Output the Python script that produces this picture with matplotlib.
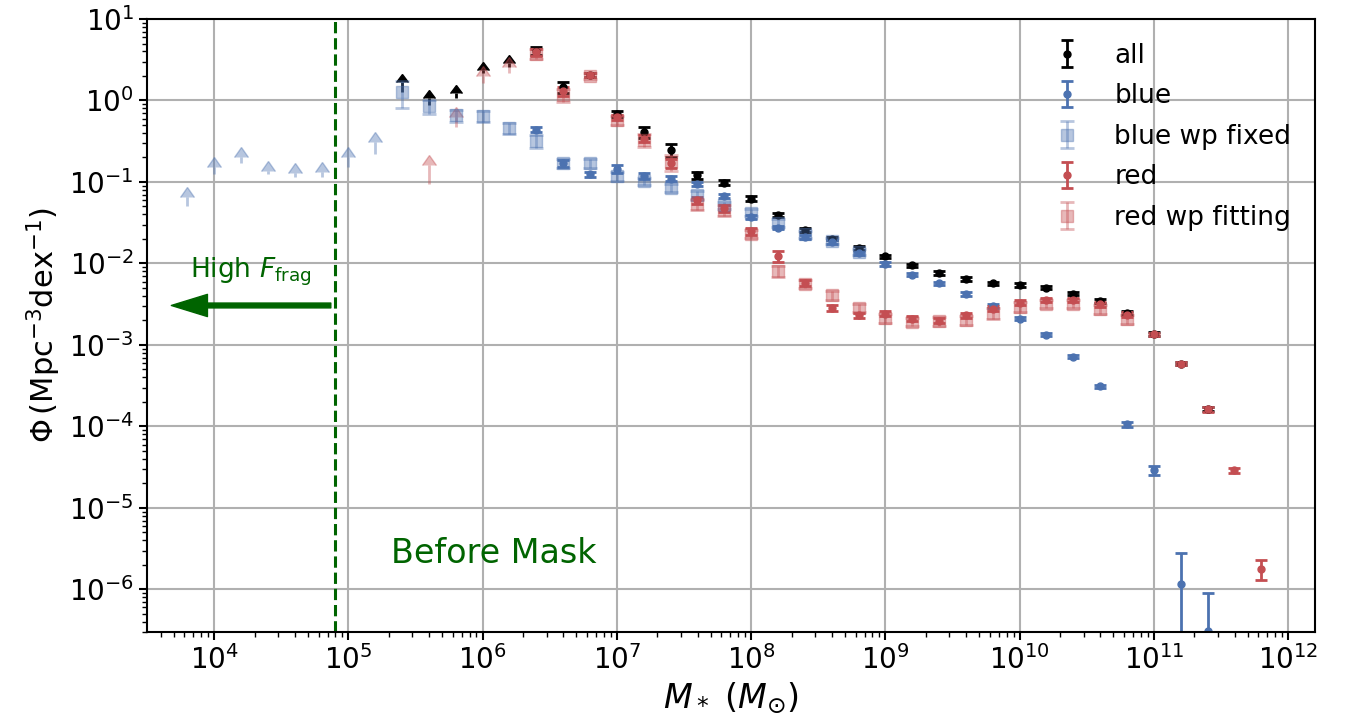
import numpy as np
import matplotlib.pyplot as plt

# colours
c_blue = '#4c72b0'
c_red = '#c44e52'

# ---- all (black) ----
all_lim_logm = [5.4, 5.6, 5.8, 6.0, 6.2]
all_lim_phi = [1.28, 0.88, 1.06, 2.15, 2.55]
all_lim_len = [0.42, 0.18, 0.18, 0.21, 0.31]
all_logm = [6.4, 6.6, 6.8, 7.0, 7.2, 7.4, 7.6, 7.8, 8.0, 8.2, 8.4, 8.6, 8.8,
            9.0, 9.2, 9.4, 9.6, 9.8, 10.0, 10.2, 10.4, 10.6, 10.8, 11.0, 11.2, 11.4]
all_phi = [4.08, 1.47, 2.05, 0.69, 0.413, 0.246, 0.121, 0.0975, 0.0626, 0.039, 0.026,
           0.0202, 0.0155, 0.01225, 0.0095, 0.0077, 0.00645, 0.0057, 0.00545, 0.00506,
           0.00427, 0.00347, 0.00247, 0.00137, 0.00059, 0.000163]
all_frac = [0.12, 0.16, 0.06, 0.08, 0.15, 0.18, 0.1, 0.07, 0.06, 0.06, 0.06, 0.05, 0.05,
            0.05, 0.05, 0.05, 0.05, 0.05, 0.05, 0.05, 0.05, 0.05, 0.05, 0.05, 0.05, 0.05]

# ---- blue ----
blue_logm = [6.4, 6.6, 6.8, 7.0, 7.2, 7.4, 7.6, 7.8, 8.0, 8.2, 8.4, 8.6, 8.8, 9.0,
             9.2, 9.4, 9.6, 9.8, 10.0, 10.2, 10.4, 10.6, 10.8, 11.0, 11.2, 11.4]
blue_phi = [0.44, 0.169, 0.124, 0.146, 0.118, 0.110, 0.094, 0.0675, 0.037, 0.0276,
            0.0212, 0.0184, 0.0133, 0.0098, 0.0073, 0.0057, 0.0042, 0.0030, 0.0021,
            0.00134, 0.00072, 0.00031, 0.000106, 2.88e-5, 1.17e-6, 3.05e-7]
blue_frac = [0.08, 0.1, 0.08, 0.12, 0.08, 0.07, 0.06, 0.06, 0.06, 0.05, 0.05, 0.05,
             0.05, 0.05, 0.05, 0.05, 0.05, 0.05, 0.05, 0.05, 0.05, 0.05, 0.08, 0.12, 1.38, 2.0]

# ---- blue wp fixed ----
bwp_lim_logm = [3.8, 4.0, 4.2, 4.4, 4.6, 4.8, 5.0, 5.2]
bwp_lim_phi = [0.0505, 0.125, 0.170, 0.125, 0.115, 0.115, 0.152, 0.220]
bwp_lim_len = [0.015, 0.027, 0.032, 0.011, 0.013, 0.016, 0.050, 0.088]
bwp_logm = [5.4, 5.6, 5.8, 6.0, 6.2, 6.4, 6.6, 6.8, 7.0, 7.2, 7.4, 7.6, 7.8, 8.0,
            8.2, 8.4, 8.6, 8.8]
bwp_phi = [1.28, 0.853, 0.656, 0.643, 0.454, 0.317, 0.169, 0.169, 0.118, 0.102, 0.085,
           0.069, 0.052, 0.042, 0.0315, 0.023, 0.019, 0.0138]
bwp_frac = [0.37, 0.2, 0.17, 0.15, 0.15, 0.18, 0.12, 0.12, 0.12, 0.1, 0.12, 0.12,
            0.1, 0.1, 0.1, 0.1, 0.08, 0.08]

# ---- red ----
red_logm = [6.4, 6.6, 6.8, 7.0, 7.2, 7.4, 7.6, 7.8, 8.0, 8.2, 8.4, 8.6, 8.8, 9.0,
            9.2, 9.4, 9.6, 9.8, 10.0, 10.2, 10.4, 10.6, 10.8, 11.0, 11.2, 11.4, 11.6, 11.8]
red_phi = [3.9, 1.3, 2.05, 0.62, 0.34, 0.17, 0.06, 0.048, 0.025, 0.0122, 0.0058,
           0.00285, 0.00231, 0.00242, 0.0021, 0.00199, 0.00231, 0.00279, 0.00331,
           0.0036, 0.00353, 0.00315, 0.00236, 0.00135, 0.000589, 0.000162, 2.88e-5, 1.79e-6]
red_frac = [0.1, 0.12, 0.06, 0.08, 0.1, 0.12, 0.1, 0.1, 0.1, 0.15, 0.08, 0.08, 0.07,
            0.07, 0.07, 0.07, 0.07, 0.07, 0.07, 0.06, 0.06, 0.06, 0.06, 0.05, 0.05, 0.06,
            0.08, 0.27]

# ---- red wp fitting ----
rwp_lim_logm = [5.6, 5.8, 6.0, 6.2]
rwp_lim_phi = [0.094, 0.475, 1.65, 2.15]
rwp_lim_len = [0.067, 0.145, 0.35, 0.45]
rwp_logm = [6.4, 6.6, 6.8, 7.0, 7.2, 7.4, 7.6, 7.8, 8.0, 8.2, 8.4, 8.6, 8.8, 9.0,
            9.2, 9.4, 9.6, 9.8, 10.0, 10.2, 10.4, 10.6, 10.8]
rwp_phi = [3.75, 1.16, 2.0, 0.57, 0.327, 0.177, 0.054, 0.045, 0.0233, 0.0081, 0.0056,
           0.0041, 0.00287, 0.00214, 0.00193, 0.00195, 0.00202, 0.00245, 0.00295,
           0.00321, 0.0032, 0.00275, 0.00208]
rwp_frac = [0.15, 0.18, 0.08, 0.12, 0.18, 0.22, 0.15, 0.15, 0.12, 0.15, 0.12, 0.12,
            0.12, 0.12, 0.12, 0.12, 0.12, 0.15, 0.15, 0.12, 0.12, 0.12, 0.12]


def draw(ax, logm, phi, frac, lim_logm, lim_phi, lim_len, color, marker, ms, alpha, label, cs):
    x = 10 ** np.array(logm)
    y = np.array(phi)
    ax.errorbar(x, y, yerr=y * np.array(frac), fmt=marker, color=color, ms=ms,
                capsize=cs, capthick=2, elinewidth=2, alpha=alpha, label=label)
    if lim_logm:
        xl = 10 ** np.array(lim_logm)
        eb = ax.errorbar(xl, lim_phi, yerr=lim_len, lolims=True, fmt='none',
                         color=color, ecolor=color, capsize=cs, elinewidth=2, alpha=alpha)
        # keep only the arrow heads, drop the flat cap at the tail
        for cl in eb[1]:
            if cl.get_marker() == '_':
                cl.set_visible(False)
            else:
                cl.set_markerfacecolor(color)
                cl.set_markeredgecolor(color)


fig = plt.figure(figsize=(13.53, 7.23), dpi=100)
ax = fig.add_axes([147 / 1353, 1 - 632 / 723, (1315 - 147) / 1353, (632 - 19) / 723])
ax.set_xscale('log')
ax.set_yscale('log')

draw(ax, all_logm, all_phi, all_frac, all_lim_logm, all_lim_phi, all_lim_len,
     'k', 'o', 5, 1, 'all', 4)
draw(ax, blue_logm, blue_phi, blue_frac, [], [], [], c_blue, 'o', 5, 1, 'blue', 4)
draw(ax, bwp_logm, bwp_phi, bwp_frac, bwp_lim_logm, bwp_lim_phi, bwp_lim_len,
     c_blue, 's', 9, 0.4, 'blue wp fixed', 5)
draw(ax, red_logm, red_phi, red_frac, [], [], [], c_red, 'o', 5, 1, 'red', 4)
draw(ax, rwp_logm, rwp_phi, rwp_frac, rwp_lim_logm, rwp_lim_phi, rwp_lim_len,
     c_red, 's', 9, 0.4, 'red wp fitting', 5)

# mask line and annotations
ax.axvline(8e4, color='darkgreen', ls='--', lw=2.2)
ax.annotate('', xy=(4.8e3, 3.05e-3), xytext=(7.4e4, 3.05e-3),
            arrowprops=dict(color='darkgreen', width=3.5, headwidth=16, headlength=26))
ax.text(1.86e4, 7.8e-3, r'High $F_{\rm frag}$', color='darkgreen', fontsize=19,
        ha='center', va='center')
ax.text(1.2e6, 2.75e-6, 'Before Mask', color='darkgreen', fontsize=24,
        ha='center', va='center')

ax.set_xlim(10 ** 3.5, 10 ** 12.2)
ax.set_ylim(3e-7, 10)
ax.grid(True, which='major', color='#b0b0b0', lw=1.5)
ax.set_axisbelow(True)
for s in ax.spines.values():
    s.set_linewidth(1.5)
ax.tick_params(which='major', labelsize=20, length=6, width=1.5)
ax.tick_params(which='minor', length=3.5, width=1)
ax.set_xlabel(r'$M_*\ (M_{\odot})$', fontsize=24)
ax.set_ylabel(r'$\Phi\,(\mathrm{Mpc^{-3}dex^{-1}})$', fontsize=22)
ax.legend(loc='upper right', frameon=False, fontsize=19, labelspacing=0.55)

fig.savefig('out.png', dpi=100)
